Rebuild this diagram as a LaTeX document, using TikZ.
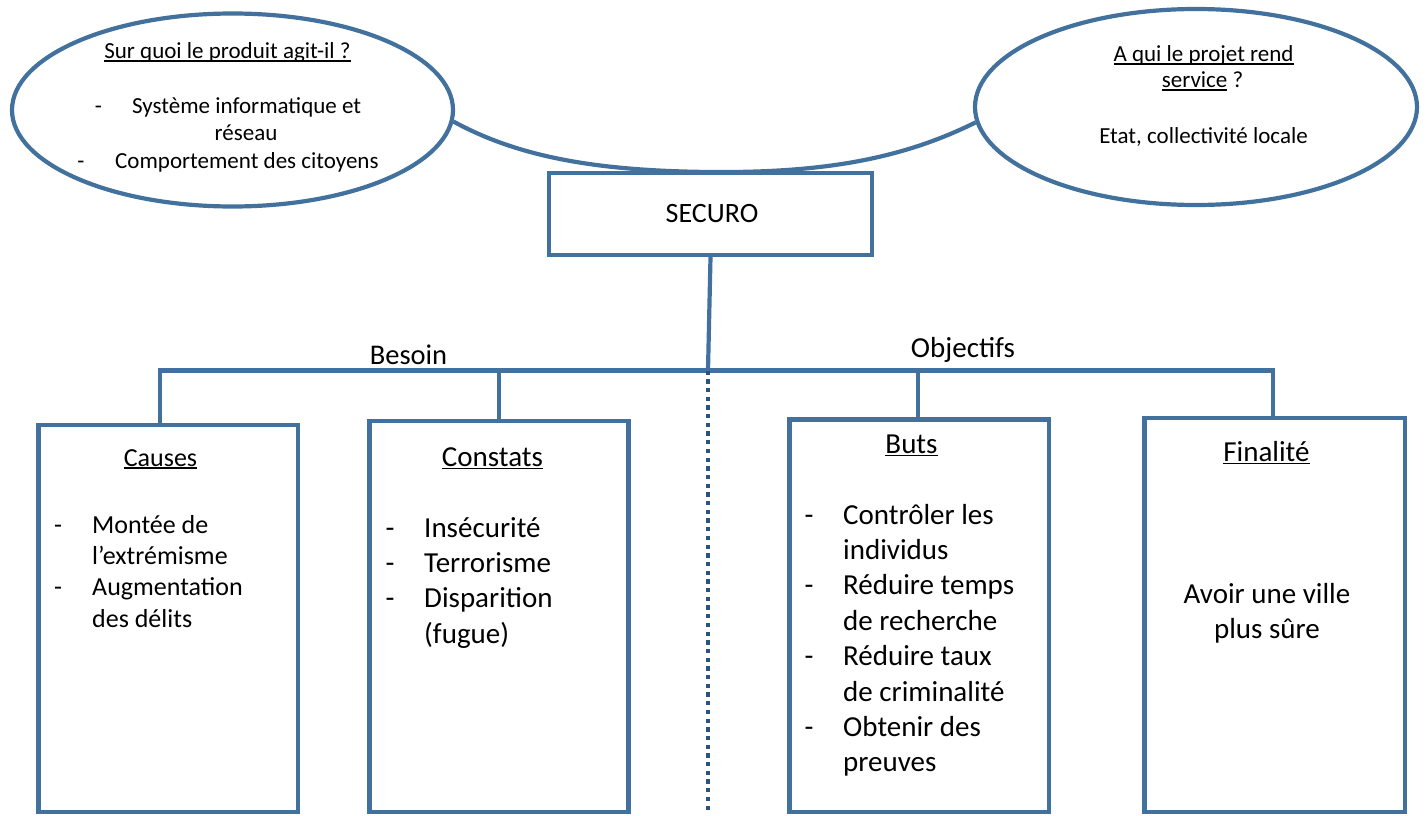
\documentclass[tikz,border=0pt]{standalone}
\usepackage{fontspec}
\setmainfont{Carlito}
\usetikzlibrary{shapes.geometric}
\definecolor{frame}{RGB}{65,113,156}
\definecolor{dots}{RGB}{40,84,128}
% underline at a fixed depth, like a word processor does
\newcommand\uln[1]{\setbox0\hbox{#1}\rlap{\rule[-0.12em]{\wd0}{0.065em}}\box0\relax}
\newcommand\fsE{\fontsize{23}{27}\selectfont}
\newcommand\fsB{\fontsize{29}{35}\selectfont}
\newcommand\fsC{\fontsize{26}{31}\selectfont}
\tikzset{
  line/.style={draw=frame, line width=4.2pt},
  bubble/.style={ellipse, draw=frame, line width=4.2pt, fill=white, inner sep=0pt},
  panel/.style={draw=frame, line width=4.2pt, fill=white, inner sep=0pt},
  txt/.style={inner sep=0pt, anchor=base, text=black},
  txtl/.style={inner sep=0pt, anchor=base west, text=black},
}
\begin{document}
\begin{tikzpicture}[x=1pt, y=-1pt]
\useasboundingbox (0,0) rectangle (1427,816);

% --- two question bubbles and the arc joining them
\node[bubble, minimum width=441pt, minimum height=193pt] (L) at (232.5,110) {};
\node[bubble, minimum width=442pt, minimum height=196pt] (R) at (1196,107) {};
\coordinate (la) at (L.-3);
\coordinate (ra) at (R.184.5);
\coordinate (lo) at (710,172);
\draw[line] (la) .. controls (520,158) and (600,171) .. (lo)
                 .. controls (820,173) and (900,160) .. (ra);

% left bubble text
\node[txt] (Lt) at (227.5,59) {\fsE\uln{Sur quoi le produit agit-il ?}};
\node[txt] (Ld1) at (98.5,113) {\fsE -};
\node[txtl] (Li1) at (132,113) {\fsE Système informatique et};
\node[txt] (Li2) at (246,140) {\fsE réseau};
\node[txt] (Ld2) at (81,168) {\fsE -};
\node[txtl] (Li3) at (115,168) {\fsE Comportement des citoyens};

% right bubble text
\node[txt] (Rt1) at (1203.5,62) {\fsE\uln{A qui le projet rend}};
\node[txt] (Rt2) at (1202.5,88) {\fsE\uln{service} ?};
\node[txt] (Ri) at (1203.5,143) {\fsE Etat, collectivité locale};

% --- central project box
\node[panel, minimum width=323pt, minimum height=82pt] (S) at (710.5,214) {};
\node[txt] (St) at (712,222) {\fontsize{28}{34}\selectfont SECURO};

% --- the four boxes
\node[panel, minimum width=259.5pt, minimum height=387pt] (Ca) at (168.25,618.5) {};
\node[panel, minimum width=259pt, minimum height=391pt] (Co) at (499,616.5) {};
\node[panel, minimum width=259.5pt, minimum height=392.5pt] (Bu) at (919.25,615.75) {};
\node[panel, minimum width=260.5pt, minimum height=394pt] (Fi) at (1274.75,615) {};

% --- tree connectors
\coordinate (j) at (708,370.5);
\coordinate (bl) at (160,370.5);
\coordinate (br) at (1273,370.5);
\coordinate (bot) at (708,812);
\draw[line] (S.south) -- (j);
\draw[line] (bl |- Ca.north) -- (bl) -- (br) -- (br |- Fi.north);
\draw[line] (499,370.5) -- (Co.north);
\draw[line] (918,370.5) -- (918,419.5);
\draw[draw=dots, line width=3.6pt, dash pattern=on 4.3pt off 4.4pt] (j) -- (bot);

\node[txt] (Be) at (408.5,364) {\fontsize{28.5}{34}\selectfont Besoin};
\node[txt] (Ob) at (963,357) {\fontsize{29}{35}\selectfont Objectifs};

% Causes
\node[txt] (CaT) at (160.5,466) {\fsC\uln{Causes}};
\node[txt] (CaD1) at (58,533) {\fsC -};
\node[txtl] (Ca1) at (92,533) {\fsC Montée de};
\node[txtl] (Ca2) at (92,564) {\fsC l’extrémisme};
\node[txt] (CaD2) at (58,595) {\fsC -};
\node[txtl] (Ca3) at (92,595) {\fsC Augmentation};
\node[txtl] (Ca4) at (92,627) {\fsC des délits};

% Constats
\node[txt] (CoT) at (492.5,466) {\fsB\uln{Constats}};
\node[txt] (CoD1) at (390,537) {\fsB -};
\node[txtl] (Co1) at (424,537) {\fsB Insécurité};
\node[txt] (CoD2) at (390,572) {\fsB -};
\node[txtl] (Co2) at (424,572) {\fsB Terrorisme};
\node[txt] (CoD3) at (390,607) {\fsB -};
\node[txtl] (Co3) at (424,607) {\fsB Disparition};
\node[txtl] (Co4) at (424,643) {\fsB (fugue)};

% Buts
\node[txt] (BuT) at (911.5,453) {\fsB\uln{Buts}};
\node[txt] (BuD1) at (809,524) {\fsB -};
\node[txtl] (Bu1) at (843,524) {\fsB Contrôler les};
\node[txtl] (Bu2) at (843,559.4) {\fsB individus};
\node[txt] (BuD2) at (809,594.8) {\fsB -};
\node[txtl] (Bu3) at (843,594.8) {\fsB Réduire temps};
\node[txtl] (Bu4) at (843,630.2) {\fsB de recherche};
\node[txt] (BuD3) at (809,665.6) {\fsB -};
\node[txtl] (Bu5) at (843,665.6) {\fsB Réduire taux};
\node[txtl] (Bu6) at (843,701) {\fsB de criminalité};
\node[txt] (BuD4) at (809,736.4) {\fsB -};
\node[txtl] (Bu7) at (843,736.4) {\fsB Obtenir des};
\node[txtl] (Bu8) at (843,771.8) {\fsB preuves};

% Finalité
\node[txt] (FiT) at (1266.5,461) {\fsB\uln{Finalité}};
\node[txt] (Fi1) at (1267,603) {\fsB Avoir une ville};
\node[txt] (Fi2) at (1267,638) {\fsB plus sûre};
\end{tikzpicture}
\end{document}
